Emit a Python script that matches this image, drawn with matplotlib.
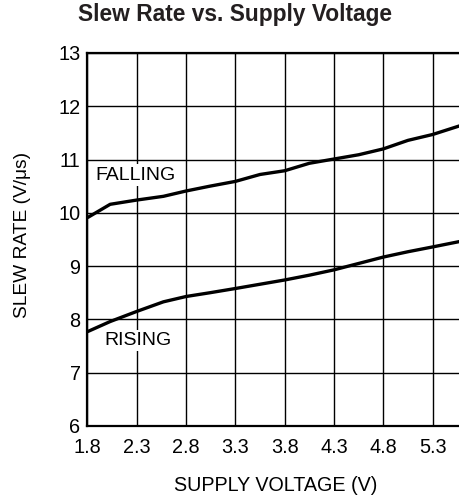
import matplotlib
matplotlib.use("Agg")
import matplotlib.pyplot as plt

plt.rcParams['font.family'] = ['Liberation Sans', 'DejaVu Sans']

# supply voltage (V) and slew rate (V/us)
volts = [1.8, 2.03, 2.3, 2.57, 2.8, 3.04, 3.3, 3.55, 3.8, 4.05, 4.3, 4.55, 4.8, 5.05, 5.3, 5.57, 5.8]
falling = [9.91, 10.16, 10.24, 10.31, 10.41, 10.50, 10.59, 10.72, 10.79, 10.93, 11.01, 11.09, 11.20, 11.36, 11.47, 11.63, 11.76]
rising = [7.77, 7.96, 8.15, 8.33, 8.43, 8.50, 8.58, 8.66, 8.74, 8.83, 8.93, 9.05, 9.17, 9.27, 9.36, 9.46, 9.55]

xticks = [1.8, 2.3, 2.8, 3.3, 3.8, 4.3, 4.8, 5.3]
yticks = [6, 7, 8, 9, 10, 11, 12, 13]

fig = plt.figure(figsize=(4.59, 4.97), dpi=100)
ax = fig.add_axes([0.1906, 0.1429, 0.8593, 0.7505])

ax.plot(volts, falling, color='black', lw=2.4, solid_capstyle='butt', zorder=3)
ax.plot(volts, rising, color='black', lw=2.4, solid_capstyle='butt', zorder=3)

ax.set_xlim(1.8, 5.8)
ax.set_ylim(6, 13)
ax.set_xticks(xticks + [5.8])
ax.set_xticklabels([str(t) for t in xticks] + [''])
ax.set_yticks(yticks)
ax.grid(True, color='black', lw=1.0)
ax.tick_params(length=0, labelsize=14.3, colors='black')
ax.tick_params(axis='x', pad=8.5)
ax.tick_params(axis='y', pad=5)
for s in ax.spines.values():
    s.set_linewidth(1.6)

ax.text(1.88, 10.71, 'FALLING', fontsize=14, va='center', ha='left', zorder=4,
        bbox=dict(facecolor='white', edgecolor='none', pad=1.5))
ax.text(1.97, 7.6, 'RISING', fontsize=14, va='center', ha='left', zorder=4,
        bbox=dict(facecolor='white', edgecolor='none', pad=1.5))

fig.text(0.511, 0.97, 'Slew Rate vs. Supply Voltage', fontsize=16.4, fontweight='bold',
         ha='center', va='center', color='#231f20')
fig.text(0.601, 0.024, 'SUPPLY VOLTAGE (V)', fontsize=14.2, ha='center', va='center')
fig.text(0.05, 0.527, 'SLEW RATE (V/\u03bcs)', fontsize=13.8, ha='center', va='center', rotation=90)

fig.savefig('out.png', dpi=100)
